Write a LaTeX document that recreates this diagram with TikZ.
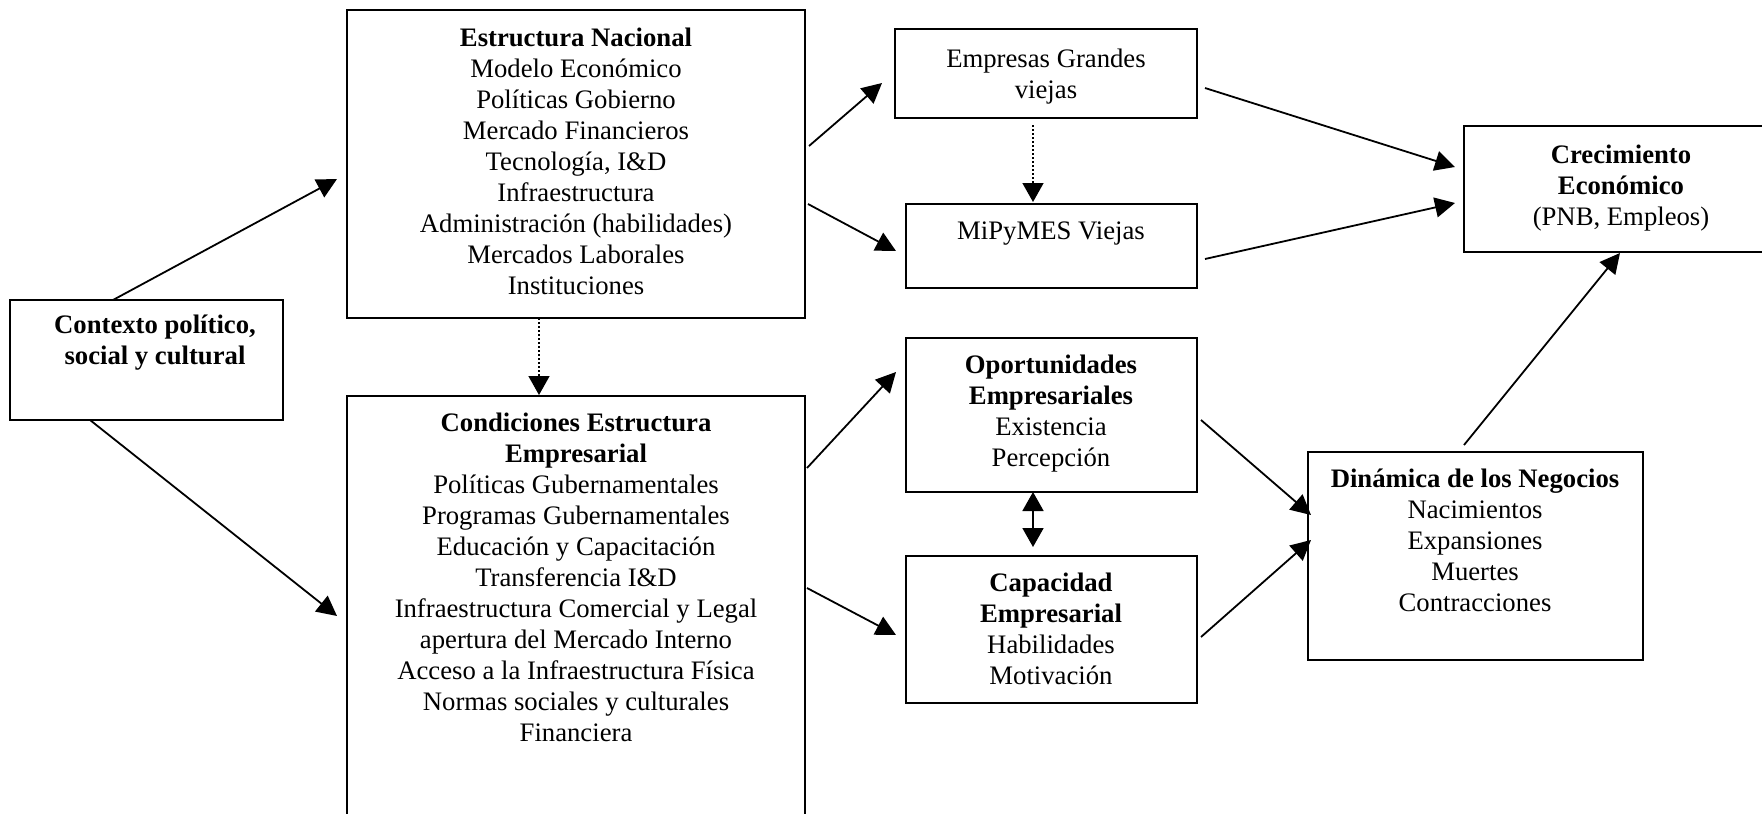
\documentclass[tikz,border=0pt]{standalone}
\usepackage{fontspec}
\setmainfont{Liberation Serif}
\usetikzlibrary{arrows.meta,calc}
\tikzset{
  box/.style={draw, line width=2.2pt, inner sep=0pt, outer sep=0pt, anchor=north west},
  txt/.style={anchor=north, align=center, inner sep=0pt, font=\fontsize{26.7pt}{31pt}\selectfont},
  arr/.style={line width=1.8pt, -{Triangle[length=20pt,width=20pt]}},
  dotarr/.style={line width=1.5pt, dash pattern=on 1.5pt off 2.5pt, -{Triangle[length=19pt,width=21pt]}},
  dblarr/.style={line width=1.8pt, {Triangle[length=19pt,width=21pt]}-{Triangle[length=19pt,width=21pt]}},
}
\begin{document}
\begin{tikzpicture}[x=1pt,y=-1pt]
\useasboundingbox (0,0) rectangle (1762,814);
\clip (0,0) rectangle (1762,814);
% boxes
\node[box, minimum width=273pt, minimum height=120pt] (ctx) at (10,300) {};
\node[box, minimum width=458pt, minimum height=308pt] (en) at (347,10) {};
\node[box, minimum width=458pt, minimum height=440pt] (ce) at (347,396) {};
\node[box, minimum width=302pt, minimum height=89pt] (eg) at (895,29) {};
\node[box, minimum width=291pt, minimum height=84pt] (mp) at (906,204) {};
\node[box, minimum width=314pt, minimum height=126pt] (cr) at (1464,126) {};
\node[box, minimum width=291pt, minimum height=154pt] (op) at (906,338) {};
\node[box, minimum width=291pt, minimum height=147pt] (ca) at (906,556) {};
\node[box, minimum width=335pt, minimum height=208pt] (di) at (1308,452) {};
% texts
\node[txt] (ctxT) at (155,311.3) {\strut\textbf{Contexto político,}\\\textbf{social y cultural}};
\node[txt] (enT) at (576,24.3) {\strut\textbf{Estructura Nacional}\\Modelo Económico\\Políticas Gobierno\\Mercado Financieros\\Tecnología, I\&D\\Infraestructura\\Administración (habilidades)\\Mercados Laborales\\Instituciones};
\node[txt] (ceT) at (576,409.3) {\strut\textbf{Condiciones Estructura}\\\textbf{Empresarial}\\Políticas Gubernamentales\\Programas Gubernamentales\\Educación y Capacitación\\Transferencia I\&D\\Infraestructura Comercial y Legal\\apertura del Mercado Interno\\Acceso a la Infraestructura Física\\Normas sociales y culturales\\Financiera};
\node[txt] (egT) at (1046,45.3) {\strut Empresas Grandes\\viejas};
\node[txt] (mpT) at (1051,217.3) {\strut MiPyMES Viejas};
\node[txt] (crT) at (1621,141.3) {\strut\textbf{Crecimiento}\\\textbf{Económico}\\(PNB, Empleos)};
\node[txt] (opT) at (1051,351.3) {\strut\textbf{Oportunidades}\\\textbf{Empresariales}\\Existencia\\Percepción};
\node[txt] (caT) at (1051,569.3) {\strut\textbf{Capacidad}\\\textbf{Empresarial}\\Habilidades\\Motivación};
\node[txt] (diT) at (1475,465.3) {\strut\textbf{Dinámica de los Negocios}\\Nacimientos\\Expansiones\\Muertes\\Contracciones};
% connectors
\draw[arr] ($(ctx.north west)+(103,0)$) -- ($(en.north west)+(-10,169)$);
\draw[arr] ($(ctx.south west)+(80,0)$) -- ($(ce.north west)+(-10,220)$);
\draw[dotarr] ($(en.south west)+(192,0)$) -- ($(ce.north west)+(192,-1)$);
\draw[arr] ($(en.north east)+(4,136)$) -- ($(eg.north west)+(-13,54)$);
\draw[arr] ($(en.north east)+(3,194)$) -- ($(mp.north west)+(-10,47)$);
\draw[dotarr] ($(eg.south west)+(138,7)$) -- ($(mp.north west)+(127,-2)$);
\draw[arr] ($(eg.north east)+(8,59)$) -- ($(cr.north west)+(-9,41)$);
\draw[arr] ($(mp.north east)+(8,55)$) -- ($(cr.north west)+(-9,77)$);
\draw[arr] ($(ce.north east)+(2,72)$) -- ($(op.north west)+(-10,34)$);
\draw[arr] ($(ce.north east)+(2,192)$) -- ($(ca.north west)+(-10,79)$);
\draw[dblarr] ($(op.south west)+(127,0)$) -- ($(ca.north west)+(127,-9)$);
\draw[arr] ($(op.north east)+(4,82)$) -- ($(di.north west)+(3,63)$);
\draw[arr] ($(ca.north east)+(4,81)$) -- ($(di.north west)+(3,88)$);
\draw[arr] ($(di.north west)+(156,-7)$) -- ($(cr.south west)+(156,1)$);
\end{tikzpicture}
\end{document}
